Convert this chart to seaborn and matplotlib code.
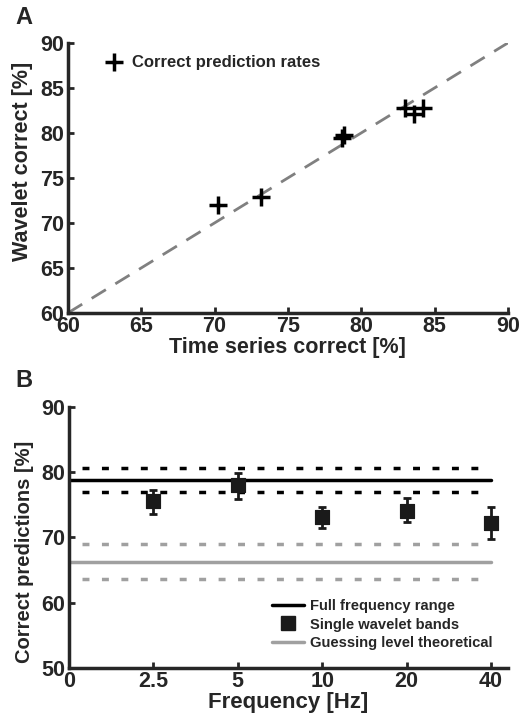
import numpy as np
import pandas as pd
import matplotlib
matplotlib.use("Agg")
import matplotlib.pyplot as plt
from matplotlib.lines import Line2D
import seaborn as sns

# panel A data
ts_correct = [70.2, 73.15, 78.7, 78.8, 83.0, 83.6, 84.2]
wav_correct = [72.0, 72.9, 79.4, 79.8, 82.8, 82.1, 82.8]

# panel B data
freq_labels = ["2.5", "5", "10", "20", "40"]
band_mean = [75.5, 78.0, 73.1, 74.0, 72.2]
band_err_lo = [73.6, 75.9, 71.5, 72.3, 69.8]
band_err_hi = [77.2, 79.8, 74.6, 76.0, 74.7]
full_mean, full_lo, full_hi = 78.8, 76.9, 80.6
guess_mean, guess_lo, guess_hi = 66.2, 63.6, 69.0

sns.set_style("ticks")
plt.rcParams["font.family"] = ["Liberation Sans", "DejaVu Sans"]
plt.rcParams["font.weight"] = "bold"
plt.rcParams["axes.labelweight"] = "bold"

fig = plt.figure(figsize=(5.23, 7.16), dpi=100)
axA = fig.add_axes([0.130, 0.563, 0.841, 0.377])
axB = fig.add_axes([0.132, 0.067, 0.839, 0.365])

for ax in (axA, axB):
    sns.despine(ax=ax)
    for s in ("left", "bottom"):
        ax.spines[s].set_linewidth(2.5)
    ax.tick_params(direction="in", length=4, width=2, labelsize=15.5, pad=3)
axA.tick_params(axis="x", pad=2)
axB.tick_params(axis="x", pad=2)

# ---- A
dfA = pd.DataFrame({"ts": ts_correct, "wav": wav_correct})
sns.lineplot(x=[60, 90], y=[60, 90], ax=axA, color="#808080", lw=2,
             linestyle=(0, (6, 4)))
sns.scatterplot(data=dfA, x="ts", y="wav", ax=axA, marker="+", s=180,
                color="black", linewidth=2.5, label="Correct prediction rates", zorder=3)
axA.set_xlim(60, 90)
axA.set_ylim(60, 90)
axA.set_xticks(range(60, 91, 5))
axA.set_yticks(range(60, 91, 5))
axA.set_xlabel("Time series correct [%]", fontsize=15.5, labelpad=0)
axA.set_ylabel("Wavelet correct [%]", fontsize=15.5)
axA.yaxis.set_label_coords(-0.08, 0.563)
axA.legend(loc="upper left", frameon=False, handletextpad=0.1,
           borderaxespad=0.3, bbox_to_anchor=(0.04, 1.0),
           prop={"weight": "bold", "size": 12})
fig.text(0.03, 0.975, "A", fontsize=17, fontweight="bold", va="center")

# ---- B
pos = np.arange(1, len(freq_labels) + 1)
dash = (0, (2, 3.6))
axB.axhline(full_mean, xmin=0, xmax=5 / 5.2, color="black", lw=2.5)
axB.axhline(full_lo, xmin=0.03, xmax=4.9 / 5.2, color="black", lw=2.5, linestyle=dash)
axB.axhline(full_hi, xmin=0.03, xmax=4.9 / 5.2, color="black", lw=2.5, linestyle=dash)
axB.axhline(guess_mean, xmin=0, xmax=5 / 5.2, color="#a0a0a0", lw=2.5)
axB.axhline(guess_lo, xmin=0.03, xmax=4.9 / 5.2, color="#a0a0a0", lw=2.5, linestyle=dash)
axB.axhline(guess_hi, xmin=0.03, xmax=4.9 / 5.2, color="#a0a0a0", lw=2.5, linestyle=dash)
mean = np.array(band_mean)
axB.errorbar(pos, mean, yerr=[mean - np.array(band_err_lo), np.array(band_err_hi) - mean],
             fmt="none", ecolor="#1a1a1a", elinewidth=2, capsize=3, capthick=2, zorder=3)
dfB = pd.DataFrame({"pos": pos, "val": band_mean})
sns.scatterplot(data=dfB, x="pos", y="val", ax=axB, marker="s", s=110,
                color="#1a1a1a", edgecolor="#1a1a1a", zorder=4)
axB.set_xlim(0, 5.2)
axB.set_ylim(50, 90)
axB.set_xticks(np.arange(0, len(freq_labels) + 1))
axB.set_xticklabels(["0"] + freq_labels)
axB.set_yticks(range(50, 91, 10))
axB.set_xlabel("Frequency [Hz]", fontsize=16, labelpad=0)
axB.set_ylabel("Correct predictions [%]", fontsize=14.5)
axB.yaxis.set_label_coords(-0.08, 0.444)
handles = [Line2D([], [], color="black", lw=2.5),
           Line2D([], [], color="#1a1a1a", marker="s", ls="none", markersize=10),
           Line2D([], [], color="#a0a0a0", lw=2.5)]
axB.legend(handles, ["Full frequency range", "Single wavelet bands", "Guessing level theoretical"],
           loc="lower right", bbox_to_anchor=(0.985, 0.035), frameon=False,
           handlelength=2.2, handletextpad=0.4, labelspacing=0.3, borderaxespad=0.2,
           prop={"weight": "bold", "size": 10.6})
fig.text(0.03, 0.469, "B", fontsize=17, fontweight="bold", va="center")

for ax in (axA, axB):
    for lab in ax.get_xticklabels() + ax.get_yticklabels():
        lab.set_fontweight("bold")

fig.savefig("out.png", dpi=100)
